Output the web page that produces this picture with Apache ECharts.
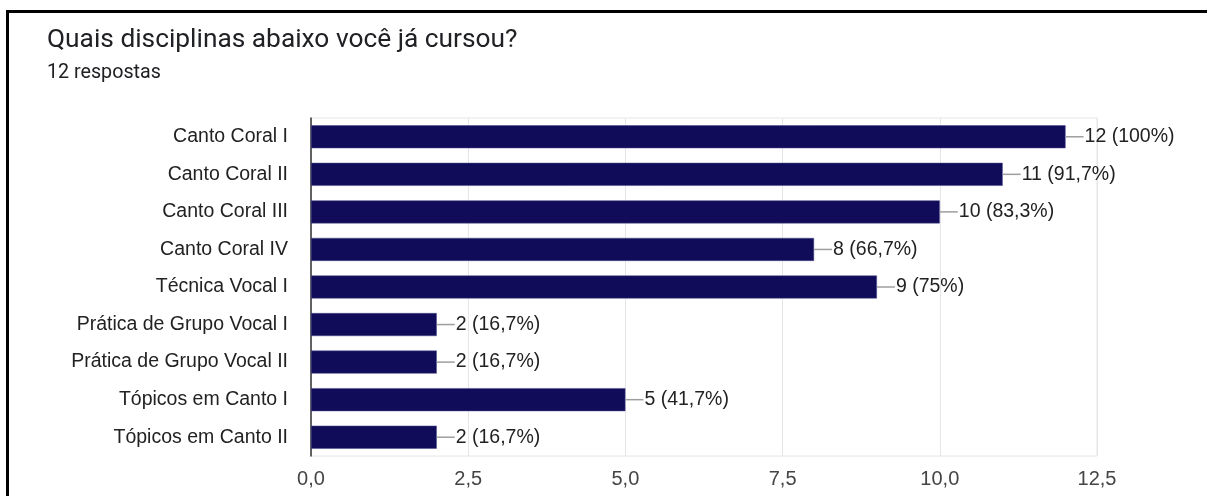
<!DOCTYPE html>
<html>
<head>
<meta charset="utf-8">
<script src="https://cdn.jsdelivr.net/npm/echarts@6/dist/echarts.min.js"></script>
<style>
html,body{margin:0;padding:0;background:#fff;}
#frame{position:absolute;left:6px;top:10px;width:1201px;height:486px;border-top:3px solid #000;border-left:3px solid #000;box-sizing:border-box;}
#chart{position:absolute;left:0;top:0;width:1207px;height:496px;}
</style>
</head>
<body>
<div id="frame"></div>
<div id="chart"></div>
<script>
var categories = ["Canto Coral I","Canto Coral II","Canto Coral III","Canto Coral IV","Técnica Vocal I","Prática de Grupo Vocal I","Prática de Grupo Vocal II","Tópicos em Canto I","Tópicos em Canto II"];
var counts = [12, 11, 10, 8, 9, 2, 2, 5, 2];
var percents = ["100%","91,7%","83,3%","66,7%","75%","16,7%","16,7%","41,7%","16,7%"];
var xTicks = [0, 2.5, 5, 7.5, 10, 12.5];

var chart = echarts.init(document.getElementById('chart'));
chart.setOption({
  animation: false,
  backgroundColor: 'transparent',
  title: {
    text: 'Quais disciplinas abaixo você já cursou?',
    subtext: '12 respostas',
    left: 42, top: 22,
    itemGap: 10,
    textStyle: {fontFamily: 'Roboto', fontSize: 26.3, fontWeight: 'normal', color: '#202124'},
    subtextStyle: {fontFamily: 'Roboto', fontSize: 19.7, color: '#202124'}
  },
  grid: {left: 311, right: 110, top: 118, bottom: 40, show: true, borderColor: '#e6e6e6', borderWidth: 1},
  xAxis: {
    type: 'value', min: 0, max: 12.5, interval: 2.5,
    axisLine: {show: false}, axisTick: {show: false},
    splitLine: {lineStyle: {color: '#e6e6e6'}},
    axisLabel: {fontFamily: 'Liberation Sans', fontSize: 20, color: '#444', margin: 13,
      formatter: function(v){ return v.toFixed(1).replace('.', ','); }}
  },
  yAxis: {
    type: 'category', data: categories, inverse: true,
    axisLine: {show: true, lineStyle: {color: '#333', width: 1.5}},
    axisTick: {show: false},
    axisLabel: {fontFamily: 'Liberation Sans', fontSize: 19.5, color: '#222', margin: 23}
  },
  series: [{
    type: 'bar',
    data: counts,
    barWidth: 23,
    itemStyle: {color: '#110c59', borderColor: '#4a4a8a', borderWidth: 0.5},
    label: {
      show: true, position: 'right', distance: 0,
      formatter: function(p){ return '{l|}{t|' + p.value + ' (' + percents[p.dataIndex] + ')}'; },
      rich: {
        l: {width: 18, height: 1.5, backgroundColor: '#9e9e9e'},
        t: {fontFamily: 'Liberation Sans', fontSize: 19.5, color: '#222', padding: [0,0,0,1]}
      }
    }
  }]
});
</script>
</body>
</html>
